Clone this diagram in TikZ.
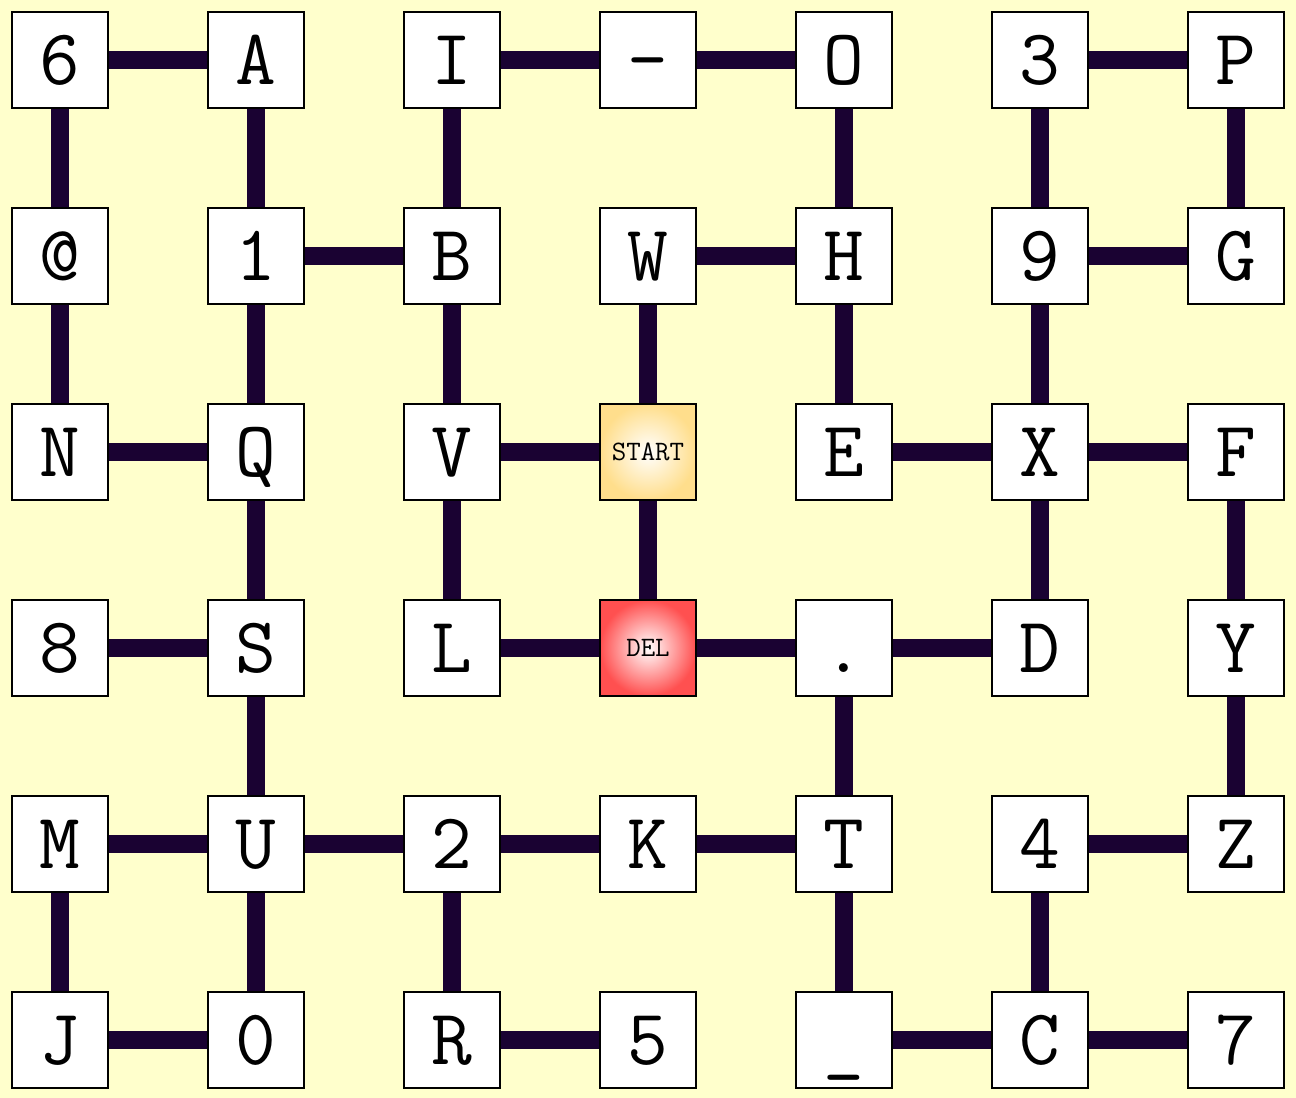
\documentclass[tikz,border=0pt]{standalone}
\usepackage{fontspec}
\usetikzlibrary{positioning}
\definecolor{paleyellow}{RGB}{255, 255, 204}
\definecolor{wirepurple}{RGB}{26, 2, 50}
\definecolor{startgold}{RGB}{255, 222, 140}
\definecolor{delred}{RGB}{255, 80, 80}
\tikzset{
  wire/.style={line width=9.7pt, wirepurple},
  key/.style={rectangle, draw=black, line width=1.1pt, fill=white, minimum size=1.92cm, inner sep=0pt,
    font=\ttfamily\fontsize{45}{45}\selectfont, text height=0.97cm, text depth=0pt},
  special/.style={key, font=\ttfamily\fontsize{16}{16}\selectfont, text height=0.35cm}
}
\begin{document}
\begin{tikzpicture}[x=0.02cm, y=-0.02cm]
    \fill[paleyellow] (0,0) rectangle (1296,1098);
    \useasboundingbox (0,0) rectangle (1296,1098);

    % row 1
    \node[key] (n6) at (60,60) {6};
    \node[key] (nA) at (256,60) {A};
    \node[key] (nI) at (452,60) {I};
    \node[key] (ndash) at (648,60) {-};
    \node[key] (nO) at (844,60) {O};
    \node[key] (n3) at (1040,60) {3};
    \node[key] (nP) at (1236,60) {P};
    % row 2
    \node[key] (nat) at (60,256) {@};
    \node[key] (n1) at (256,256) {1};
    \node[key] (nB) at (452,256) {B};
    \node[key] (nW) at (648,256) {W};
    \node[key] (nH) at (844,256) {H};
    \node[key] (n9) at (1040,256) {9};
    \node[key] (nG) at (1236,256) {G};
    % row 3
    \node[key] (nN) at (60,452) {N};
    \node[key] (nQ) at (256,452) {Q};
    \node[key] (nV) at (452,452) {V};
    \node[special, shading=radial, inner color=white, outer color=startgold] (start) at (648,452) {START};
    \node[key] (nE) at (844,452) {E};
    \node[key] (nX) at (1040,452) {X};
    \node[key] (nF) at (1236,452) {F};
    % row 4
    \node[key] (n8) at (60,648) {8};
    \node[key] (nS) at (256,648) {S};
    \node[key] (nL) at (452,648) {L};
    \node[special, shading=radial, inner color=white, outer color=delred] (del) at (648,648) {DEL};
    \node[key] (ndot) at (844,648) {.};
    \node[key] (nD) at (1040,648) {D};
    \node[key] (nY) at (1236,648) {Y};
    % row 5
    \node[key] (nM) at (60,844) {M};
    \node[key] (nU) at (256,844) {U};
    \node[key] (n2) at (452,844) {2};
    \node[key] (nK) at (648,844) {K};
    \node[key] (nT) at (844,844) {T};
    \node[key] (n4) at (1040,844) {4};
    \node[key] (nZ) at (1236,844) {Z};
    % row 6
    \node[key] (nJ) at (60,1040) {J};
    \node[key] (n0) at (256,1040) {0};
    \node[key] (nR) at (452,1040) {R};
    \node[key] (n5) at (648,1040) {5};
    \node[key] (nunder) at (844,1040) {\_};
    \node[key] (nC) at (1040,1040) {C};
    \node[key] (n7) at (1236,1040) {7};

    % horizontal links
    \draw[wire] (n6) -- (nA);  \draw[wire] (nI) -- (ndash);  \draw[wire] (ndash) -- (nO);  \draw[wire] (n3) -- (nP);
    \draw[wire] (n1) -- (nB);  \draw[wire] (nW) -- (nH);  \draw[wire] (n9) -- (nG);
    \draw[wire] (nN) -- (nQ);  \draw[wire] (nV) -- (start);  \draw[wire] (nE) -- (nX);  \draw[wire] (nX) -- (nF);
    \draw[wire] (n8) -- (nS);  \draw[wire] (nL) -- (del);  \draw[wire] (del) -- (ndot);  \draw[wire] (ndot) -- (nD);
    \draw[wire] (nM) -- (nU);  \draw[wire] (nU) -- (n2);  \draw[wire] (n2) -- (nK);  \draw[wire] (nK) -- (nT);  \draw[wire] (n4) -- (nZ);
    \draw[wire] (nJ) -- (n0);  \draw[wire] (nR) -- (n5);  \draw[wire] (nunder) -- (nC);  \draw[wire] (nC) -- (n7);

    % vertical links
    \draw[wire] (n6) -- (nat);  \draw[wire] (nA) -- (n1);  \draw[wire] (nI) -- (nB);  \draw[wire] (nO) -- (nH);  \draw[wire] (n3) -- (n9);  \draw[wire] (nP) -- (nG);
    \draw[wire] (nat) -- (nN);  \draw[wire] (n1) -- (nQ);  \draw[wire] (nB) -- (nV);  \draw[wire] (nW) -- (start);  \draw[wire] (nH) -- (nE);  \draw[wire] (n9) -- (nX);
    \draw[wire] (nQ) -- (nS);  \draw[wire] (nV) -- (nL);  \draw[wire] (start) -- (del);  \draw[wire] (nX) -- (nD);  \draw[wire] (nF) -- (nY);
    \draw[wire] (nS) -- (nU);  \draw[wire] (ndot) -- (nT);  \draw[wire] (nY) -- (nZ);
    \draw[wire] (nM) -- (nJ);  \draw[wire] (nU) -- (n0);  \draw[wire] (n2) -- (nR);  \draw[wire] (nT) -- (nunder);  \draw[wire] (n4) -- (nC);
\end{tikzpicture}
\end{document}
